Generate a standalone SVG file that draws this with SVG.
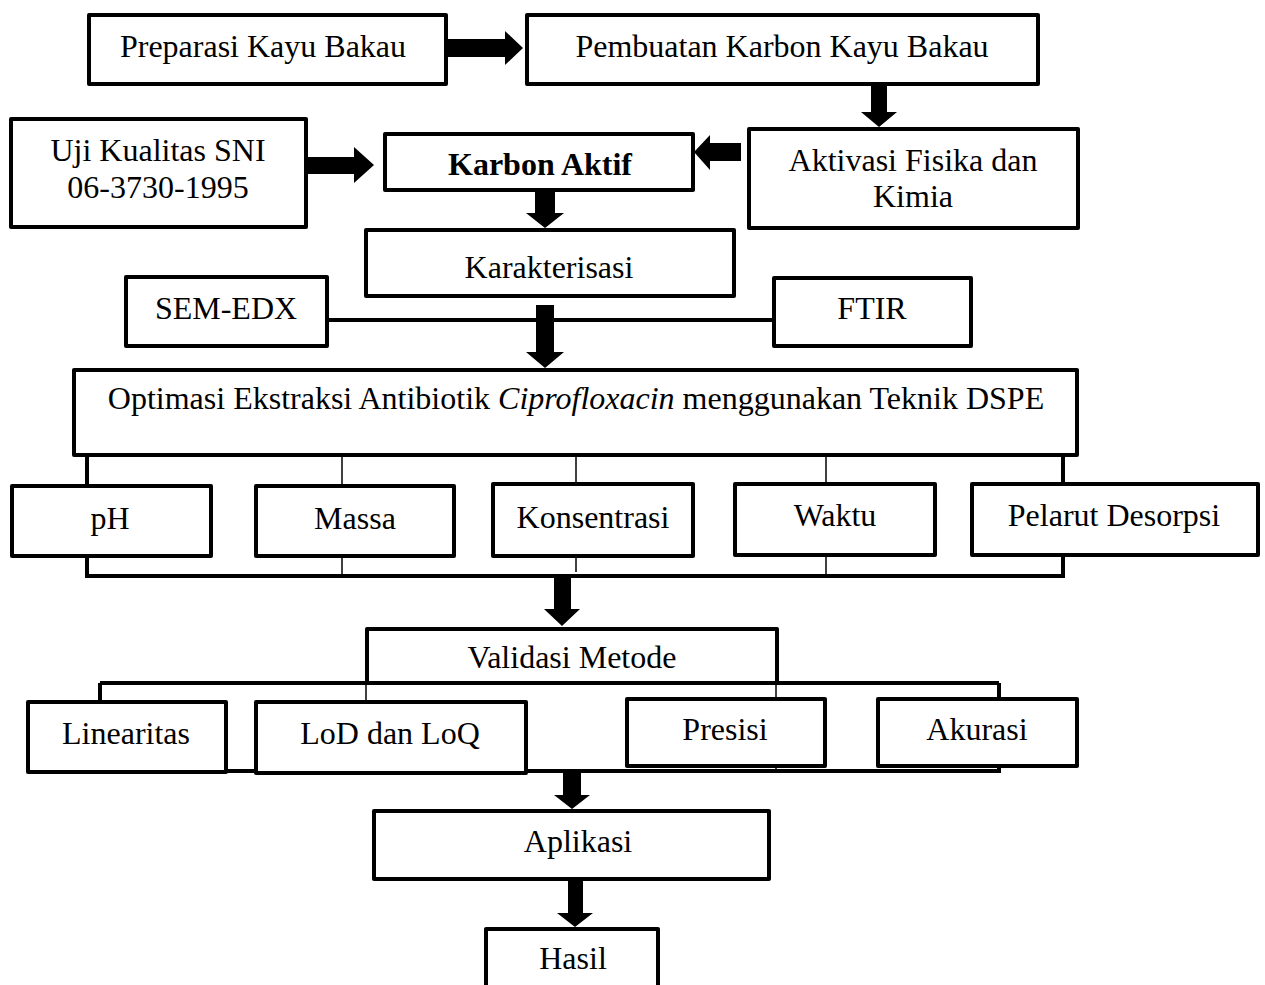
<svg xmlns="http://www.w3.org/2000/svg" width="1265" height="985" viewBox="0 0 1265 985">
<style>
.box{fill:#fff;stroke:#000;stroke-width:4;stroke-linejoin:round}
.ln{fill:none;stroke:#000;stroke-width:4}
.thin{fill:none;stroke:#000;stroke-width:1.5}
.arr{fill:#000;stroke:none}
text{font-family:"Liberation Serif","Times New Roman",serif;font-size:32px;fill:#000;text-anchor:middle}
.b{font-weight:bold}
</style>
<rect width="1265" height="985" fill="#fff"/>
<g id="connectors">
<line class="ln" x1="328" y1="320" x2="772" y2="320"/>
<polyline class="ln" points="87,455 87,576 1063,576 1063,455"/>
<line class="thin" x1="342" y1="455" x2="342" y2="576"/>
<line class="thin" x1="576" y1="455" x2="576" y2="572"/>
<line class="thin" x1="826" y1="455" x2="826" y2="576"/>
<polyline class="ln" points="100,683 999,683"/>
<polyline class="ln" points="100,683 100,771 999,771 999,683"/>
<line class="thin" x1="366" y1="683" x2="366" y2="771"/>
<line class="thin" x1="776" y1="683" x2="776" y2="771"/>
<polygon class="arr" points="448,39 505,39 505,31 523,48 505,65 505,57 448,57"/>
<polygon class="arr" points="871,84 887,84 887,112 897,112 879,127 861,112 871,112"/>
<polygon class="arr" points="741,143 710,143 710,135 694,152 710,170 710,161 741,161"/>
<polygon class="arr" points="307,157 354,157 354,147 374,165 354,183 354,174 307,174"/>
<polygon class="arr" points="535,190 555,190 555,213 564,213 545,228 526,213 535,213"/>
<polygon class="arr" points="536,305 554,305 554,352 564,352 545,368 526,352 536,352"/>
<polygon class="arr" points="554,576 571,576 571,609 580,609 562,626 544,609 554,609"/>
<polygon class="arr" points="563,771 581,771 581,795 590,795 572,809 554,795 563,795"/>
<polygon class="arr" points="568,880 583,880 583,913 593,913 575,927 557,913 568,913"/>
</g>
<g id="preparasi"><rect class="box" x="89" y="15" width="357" height="69"/><text x="263" y="57">Preparasi Kayu Bakau</text></g>
<g id="pembuatan"><rect class="box" x="527" y="15" width="511" height="69"/><text x="782" y="57">Pembuatan Karbon Kayu Bakau</text></g>
<g id="aktivasi"><rect class="box" x="749" y="129" width="329" height="99"/><text x="913" y="171">Aktivasi Fisika dan</text><text x="913" y="207">Kimia</text></g>
<g id="karbon-aktif"><rect class="box" x="385" y="134" width="308" height="56"/><text class="b" x="540" y="175">Karbon Aktif</text></g>
<g id="uji"><rect class="box" x="11" y="119" width="295" height="108"/><text x="158" y="161">Uji Kualitas SNI</text><text x="158" y="198">06-3730-1995</text></g>
<g id="karakterisasi"><rect class="box" x="366" y="230" width="368" height="66"/><text x="549" y="278">Karakterisasi</text></g>
<g id="sem-edx"><rect class="box" x="126" y="277" width="201" height="69"/><text x="226" y="319">SEM-EDX</text></g>
<g id="ftir"><rect class="box" x="774" y="278" width="197" height="68"/><text x="872" y="319">FTIR</text></g>
<g id="optimasi"><rect class="box" x="74" y="370" width="1003" height="85"/><text x="576" y="409">Optimasi Ekstraksi Antibiotik <tspan font-style="italic">Ciprofloxacin</tspan> menggunakan Teknik DSPE</text></g>
<g id="ph"><rect class="box" x="12" y="486" width="199" height="70"/><text x="110" y="529">pH</text></g>
<g id="massa"><rect class="box" x="256" y="486" width="198" height="70"/><text x="355" y="529">Massa</text></g>
<g id="konsentrasi"><rect class="box" x="493" y="484" width="200" height="72"/><text x="593" y="528">Konsentrasi</text></g>
<g id="waktu"><rect class="box" x="735" y="484" width="200" height="71"/><text x="835" y="526">Waktu</text></g>
<g id="pelarut"><rect class="box" x="972" y="484" width="286" height="71"/><text x="1114" y="526">Pelarut Desorpsi</text></g>
<g id="validasi"><rect class="box" x="367" y="629" width="410" height="54"/><text x="572" y="668">Validasi Metode</text></g>
<g id="linearitas"><rect class="box" x="28" y="702" width="198" height="70"/><text x="126" y="744">Linearitas</text></g>
<g id="lod"><rect class="box" x="256" y="702" width="270" height="71"/><text x="390" y="744">LoD dan LoQ</text></g>
<g id="presisi"><rect class="box" x="627" y="699" width="198" height="67"/><text x="725" y="740">Presisi</text></g>
<g id="akurasi"><rect class="box" x="878" y="699" width="199" height="67"/><text x="977" y="740">Akurasi</text></g>
<g id="aplikasi"><rect class="box" x="374" y="811" width="395" height="68"/><text x="578" y="852">Aplikasi</text></g>
<g id="hasil"><rect class="box" x="486" y="929" width="172" height="80"/><text x="573" y="969">Hasil</text></g>
</svg>
